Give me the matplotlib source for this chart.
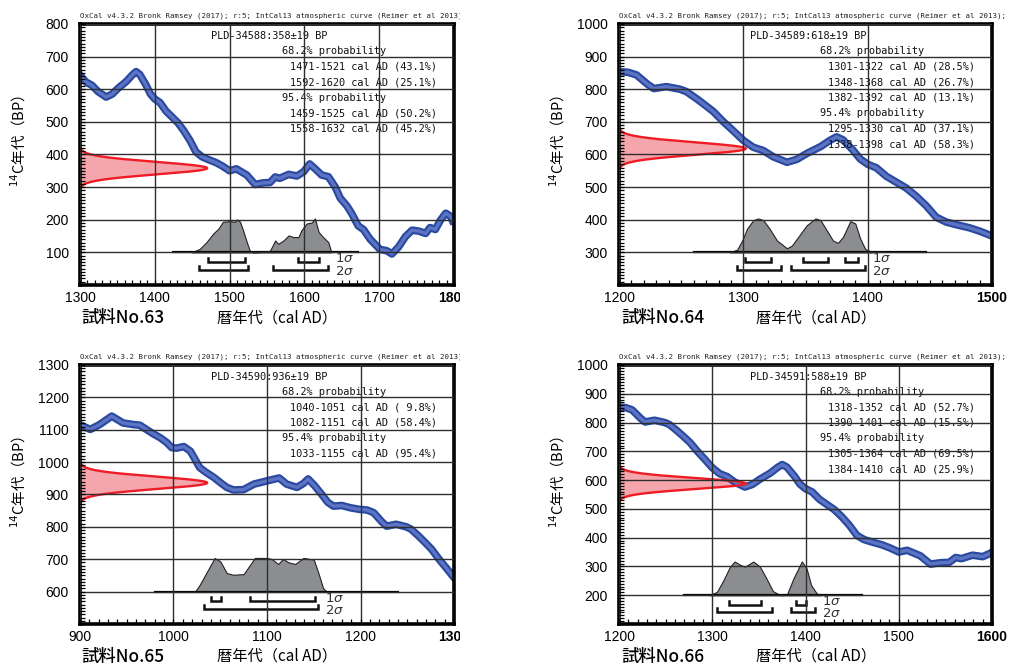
import numpy as np
import matplotlib.pyplot as plt
from matplotlib.transforms import Bbox, TransformedBbox

plt.rcParams['font.family'] = ['Noto Sans CJK JP', 'DejaVu Sans']

# IntCal13 atmospheric curve (cal AD -> 14C BP)
cal_year = [900, 911, 921, 934, 946, 957, 964, 971, 978, 986, 993, 998, 1003, 1011, 1018,
            1023, 1028, 1035, 1043, 1050, 1057, 1064, 1075, 1086, 1100, 1113, 1121, 1132,
            1139, 1144, 1151, 1158, 1165, 1171, 1180, 1189, 1199, 1207, 1214, 1223, 1228,
            1238, 1249, 1254, 1262, 1270, 1276, 1284, 1292, 1300, 1308, 1316, 1324, 1335,
            1343, 1351, 1362, 1370, 1375, 1380, 1388, 1394, 1400, 1407, 1415, 1423, 1431,
            1439, 1447, 1455, 1463, 1471, 1482, 1490, 1500, 1509, 1523, 1534, 1545, 1554,
            1561, 1567, 1579, 1590, 1599, 1607, 1614, 1623, 1632, 1641, 1648, 1657, 1663,
            1672, 1679, 1688, 1701, 1710, 1717, 1726, 1735, 1744, 1753, 1762, 1768, 1775,
            1782, 1789, 1795, 1800]
c14_bp = [1115, 1101, 1116, 1142, 1121, 1116, 1114, 1101, 1088, 1075, 1060, 1045, 1043, 1048, 1034,
          1009, 983, 968, 953, 937, 922, 914, 915, 932, 942, 951, 932, 922,
          934, 948, 927, 902, 876, 864, 866, 859, 854, 852, 844, 815, 802,
          808, 800, 793, 772, 749, 731, 700, 672, 643, 622, 612, 593, 576,
          585, 603, 624, 644, 654, 645, 614, 586, 570, 559, 533, 515, 497,
          472, 443, 408, 393, 385, 375, 365, 350, 356, 337, 308, 313, 314,
          331, 327, 339, 334, 347, 371, 357, 337, 332, 301, 266, 242, 220,
          181, 170, 140, 109, 105, 95, 117, 148, 168, 165, 158, 176, 170,
          199, 220, 211, 187]

header = "OxCal v4.3.2 Bronk Ramsey (2017); r:5; IntCal13 atmospheric curve (Reimer et al 2013);"

sample_names = ['試料No.63', '試料No.64', '試料No.65', '試料No.66']
lab_codes = ['PLD-34588', 'PLD-34589', 'PLD-34590', 'PLD-34591']
bp_ages = [358, 618, 936, 588]
bp_errors = [19, 19, 19, 19]

x_limits = [(1300, 1800), (1200, 1500), (900, 1300), (1200, 1600)]
y_limits = [(0, 800), (200, 1000), (500, 1300), (100, 1000)]

# 1 sigma / 2 sigma ranges: (from, to, percent)
ranges_1s = [
    [(1471, 1521, 43.1), (1592, 1620, 25.1)],
    [(1301, 1322, 28.5), (1348, 1368, 26.7), (1382, 1392, 13.1)],
    [(1040, 1051, 9.8), (1082, 1151, 58.4)],
    [(1318, 1352, 52.7), (1390, 1401, 15.5)],
]
ranges_2s = [
    [(1459, 1525, 50.2), (1558, 1632, 45.2)],
    [(1295, 1330, 37.1), (1338, 1398, 58.3)],
    [(1033, 1155, 95.4)],
    [(1305, 1364, 69.5), (1384, 1410, 25.9)],
]

# calibrated distributions (relative height)
post_years = [
    [1449, 1460, 1469, 1478, 1485, 1491, 1501, 1507, 1510, 1514, 1518, 1523, 1527, 1532,
     1550, 1554, 1561, 1565, 1572, 1579, 1585, 1592, 1596, 1603, 1610, 1614, 1619, 1625,
     1632, 1636],
    [1289, 1295, 1299, 1303, 1308, 1312, 1316, 1321, 1327, 1335, 1339, 1345, 1351, 1358,
     1362, 1367, 1372, 1376, 1380, 1386, 1390, 1394, 1398, 1404],
    [1023, 1028, 1037, 1044, 1050, 1057, 1064, 1075, 1082, 1087, 1100, 1105, 1112, 1117,
     1123, 1130, 1139, 1150, 1155, 1160, 1164],
    [1297, 1305, 1312, 1319, 1324, 1330, 1335, 1344, 1351, 1358, 1365, 1373, 1380, 1387,
     1396, 1401, 1406, 1412, 1417],
]
post_probs = [
    [0, 0.1, 0.3, 0.55, 0.7, 0.9, 0.92, 0.9, 0.97, 0.9, 0.65, 0.3, 0.05, 0.0,
     0.02, 0.05, 0.35, 0.25, 0.35, 0.5, 0.45, 0.45, 0.65, 0.85, 0.88, 1.0, 0.6, 0.45,
     0.3, 0.0],
    [0, 0.08, 0.35, 0.7, 0.95, 1.0, 0.95, 0.7, 0.35, 0.12, 0.2, 0.5, 0.8, 1.0,
     0.95, 0.65, 0.35, 0.28, 0.45, 0.92, 0.85, 0.4, 0.1, 0.0],
    [0, 0.2, 0.65, 1.0, 0.9, 0.55, 0.5, 0.52, 0.8, 1.0, 1.0, 0.97, 0.82, 0.97,
     0.87, 0.82, 1.0, 0.95, 0.55, 0.1, 0.0],
    [0, 0.1, 0.45, 0.85, 1.0, 0.9, 0.85, 1.0, 0.85, 0.5, 0.12, 0.0, 0.02, 0.5,
     1.0, 0.8, 0.3, 0.05, 0.0],
]
dist_base = [100, 300, 600, 200]
baseline_span = [(1425, 1672), (1260, 1447), (980, 1240), (1270, 1461)]

positions = [[0.0788, 0.5734, 0.3685, 0.3907],
             [0.6099, 0.5734, 0.3675, 0.3907],
             [0.0788, 0.0659, 0.3685, 0.3877],
             [0.6099, 0.0659, 0.3675, 0.3877]]

mono = 'DejaVu Sans Mono'
tick_font = ['Liberation Sans Narrow', 'Liberation Sans']

fig = plt.figure(figsize=(10.15, 6.68), dpi=100)
left_clip = TransformedBbox(Bbox([[0, 0], [460 / 1015, 1]]), fig.transFigure)

for i in range(4):
    ax = fig.add_axes(positions[i])
    x0, x1 = x_limits[i]
    y0, y1 = y_limits[i]
    xspan = x1 - x0
    yspan = y1 - y0

    # calibration curve
    ax.plot(cal_year, c14_bp, color='#2a4aa0', lw=5.5, solid_capstyle='butt', zorder=2)
    ax.plot(cal_year, c14_bp, color='#5d74c4', lw=2.4, solid_capstyle='butt', zorder=2)

    # measured 14C age on the y axis
    mu, sd = bp_ages[i], bp_errors[i]
    yy = np.linspace(mu - 3.2 * sd, mu + 3.2 * sd, 300)
    gx = x0 + np.exp(-0.5 * ((yy - mu) / sd) ** 2) * 0.34 * xspan
    ax.fill_betweenx(yy, x0, gx, color='#f5a6ad', lw=0, zorder=1.5)
    ax.plot(gx, yy, color='#ee1c25', lw=1.7, zorder=2.1)

    # calibrated distribution
    base = dist_base[i]
    h = 0.13 * yspan
    py = base + np.array(post_probs[i]) * h
    ax.fill_between(post_years[i], base, py, facecolor='#8c8d90', edgecolor='#222222',
                    lw=0.8, zorder=1.6)
    ax.plot(baseline_span[i], [base, base], color='black', lw=1.6, zorder=2.2)

    # sigma brackets
    for rng, off in ((ranges_1s[i], 0.037), (ranges_2s[i], 0.066)):
        yb = base - off * yspan
        tick = 0.015 * yspan
        for a, b, _ in rng:
            ax.plot([a, a, b, b], [yb + tick, yb, yb, yb + tick], color='#111111', lw=1.8,
                    solid_joinstyle='miter', zorder=2.2)
    lx = max(r[1] for r in ranges_2s[i]) + 0.018 * xspan
    ax.text(lx, base - 0.025 * yspan, '1$\\sigma$', fontsize=9.5, color='#333333',
            family='DejaVu Sans', va='center', ha='left', zorder=2.2)
    ax.text(lx, base - 0.072 * yspan, '2$\\sigma$', fontsize=9.5, color='#333333',
            family='DejaVu Sans', va='center', ha='left', zorder=2.2)

    # result text
    lines = [(0.35, f"{lab_codes[i]}:{mu}±{sd} BP"), (0.54, "68.2% probability")]
    lines += [(0.561, f"{a}-{b} cal AD ({p:4.1f}%)") for a, b, p in ranges_1s[i]]
    lines += [(0.54, "95.4% probability")]
    lines += [(0.561, f"{a}-{b} cal AD ({p:4.1f}%)") for a, b, p in ranges_2s[i]]
    for k, (tx, s) in enumerate(lines):
        ax.text(tx, 0.955 - k * 0.0595, s, transform=ax.transAxes, family=mono,
                fontsize=7.4, va='center', ha='left', color='#111111', zorder=2.4)

    ax.set_xlim(x0, x1)
    ax.set_ylim(y0, y1)
    ax.set_xticks(np.arange(x0, x1 + 1, 100))
    ax.set_yticks(np.arange(y0 + 100, y1 + 1, 100))
    ax.set_xticks(np.arange(x0, x1 + 1, 10), minor=True)
    ax.set_yticks(np.arange(y0, y1 + 1, 10), minor=True)
    ax.set_axisbelow(False)
    ax.grid(True, which='major', color='#2e2e2e', lw=1.0)
    ax.tick_params(which='both', direction='in', top=False, right=False, color='black')
    ax.tick_params(which='minor', length=3.5, width=0.9)
    ax.tick_params(which='major', length=3.5, width=0.9)
    ax.tick_params(axis='y', pad=8)
    ax.tick_params(axis='x', pad=4)
    for lab in ax.get_xticklabels() + ax.get_yticklabels():
        lab.set_family(tick_font)
        lab.set_fontsize(10)
    ax.get_xticklabels()[-1].set_fontweight('bold')
    for sp in ax.spines.values():
        sp.set_linewidth(2.6)

    ax.set_ylabel('$^{14}$C年代（BP）', fontsize=10.5)
    ax.yaxis.set_label_coords(-0.139, 0.55)

    ax.text(0.527, -0.125, '暦年代（cal AD）', transform=ax.transAxes, fontsize=11,
            ha='center', va='center')
    ax.text(0.005, -0.127, sample_names[i], transform=ax.transAxes, fontsize=12.5,
            ha='left', va='center', fontweight='medium')

    t = ax.text(0.0, 1.031, header, transform=ax.transAxes, family=mono, fontsize=5.4,
                ha='left', va='center', color='#222222')
    if i in (0, 2):
        t.set_clip_on(True)
        t.set_clip_box(left_clip)
        ax.get_xticklabels()[-1].set_clip_on(True)
        ax.get_xticklabels()[-1].set_clip_box(left_clip)

fig.savefig('out.png', dpi=100)
